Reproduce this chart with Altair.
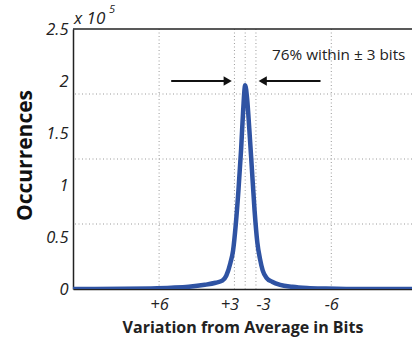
import altair as alt
import pandas as pd

# Variation (raw difference units; +ve plotted on the left) and occurrences (x 10^5)
var_x = [128, 90, 70, 55, 42, 30, 22, 17, 14, 11, 9, 7, 5, 3, 1.5, 0,
         -1.5, -3, -5, -7, -9, -11, -13, -16, -20, -26, -35, -46, -60, -75, -124]
occ_y = [0, 0.002, 0.006, 0.012, 0.021, 0.04, 0.06, 0.08, 0.13, 0.25, 0.37, 0.62, 0.95, 1.35, 1.72, 1.96,
         1.82, 1.55, 1.15, 0.75, 0.45, 0.29, 0.18, 0.105, 0.07, 0.04, 0.022, 0.01, 0.004, 0.001, 0]

x_tick_values = [64, 8, -8, -64]
x_tick_labels = ["+6", "+3", "-3", "-6"]
x_grid_values = [64, 8, 0, -8, -64]
y_tick_values = [0, 0.5, 1, 1.5, 2, 2.5]
y_grid_values = [0.625, 1.25, 1.875]

annot_text = ["76% within \u00b1 3 bits"]
annot_x = [-20]
annot_y = [2.25]
arrow_x1 = [55, -56]
arrow_x2 = [12, -12]
arrow_y = [2.0, 2.0]
head_x = [13, -13]
head_shape = ["triangle-right", "triangle-left"]

FONT = "Open Sans"
BLUE = "#2f53a3"

xscale = alt.Scale(domain=[-124, 128], reverse=True, nice=False, zero=False)
yscale = alt.Scale(domain=[0, 2.5], nice=False, zero=True)

label_expr = " : ".join(
    f"datum.value == {v} ? '{l}'" for v, l in zip(x_tick_values, x_tick_labels)
) + " : ''"

x_axis = alt.Axis(
    values=x_tick_values, labelExpr=label_expr, grid=False, ticks=False,
    domainColor="#222", domainWidth=1.5, labelFont=FONT, labelFontStyle="italic",
    labelFontSize=16.5, labelColor="#222", labelPadding=7, labelOverlap=False,
    labelOffset={"condition": {"test": "datum.value == 8", "value": -5}, "value": 0},
    labelAlign={"condition": {"test": "datum.value == -8", "value": "left"}, "value": "center"},
    title="Variation from Average in Bits", titleFont=FONT, titleFontSize=16,
    titleFontWeight="bold", titleColor="#222", titleY=38, titleBaseline="middle",
)
y_axis = alt.Axis(
    values=y_tick_values, format="~g", grid=False, ticks=False,
    domainColor="#222", domainWidth=1.5, labelFont=FONT, labelFontStyle="italic",
    labelFontSize=16.5, labelColor="#222", labelPadding=5, labelBaseline="middle",
    title="Occurrences", titleFont=FONT, titleFontSize=21, titleFontWeight="bold",
    titleColor="#111", titleX=-48, titleY=126, titleAngle=-90,
    titleAlign="center", titleBaseline="middle",
)


def X(field):
    return alt.X(field, type="quantitative", scale=xscale, axis=x_axis)


def Y(field):
    return alt.Y(field, type="quantitative", scale=yscale, axis=y_axis)


curve_df = pd.DataFrame({"x": var_x, "y": occ_y})

xgrid = alt.Chart(pd.DataFrame({"x": x_grid_values})).mark_rule(
    color="#9a9a9a", strokeDash=[1, 2.5], strokeWidth=1
).encode(x=X("x"))

ygrid = alt.Chart(pd.DataFrame({"y": y_grid_values})).mark_rule(
    color="#9a9a9a", strokeDash=[1, 2.5], strokeWidth=1
).encode(y=Y("y"))

top_border = alt.Chart(pd.DataFrame({"y": [2.5]})).mark_rule(
    color="#222", strokeWidth=1.5
).encode(y=Y("y"))

curve = alt.Chart(curve_df).mark_line(
    color=BLUE, strokeWidth=4.5, interpolate="monotone", clip=True
).encode(x=X("x"), y=Y("y"))

arrows_df = pd.DataFrame({"x1": arrow_x1, "x2": arrow_x2, "y": arrow_y,
                          "hx": head_x, "shape": head_shape})
arrow_lines = alt.Chart(arrows_df).mark_rule(color="#111", strokeWidth=2).encode(
    x=X("x1"), x2="x2:Q", y=Y("y"),
)
arrow_heads = alt.Chart(arrows_df).mark_point(
    filled=True, color="#111", opacity=1, size=90
).encode(
    x=X("hx"), y=Y("y"),
    shape=alt.Shape("shape:N", scale=None),
)

annot = alt.Chart(pd.DataFrame({"t": annot_text, "x": annot_x, "y": annot_y})).mark_text(
    align="left", baseline="middle", font=FONT, fontSize=15.3, color="#222"
).encode(x=X("x"), y=Y("y"), text="t:N")

exp_main = alt.Chart(pd.DataFrame({"t": ["x 10"]})).mark_text(
    align="left", baseline="alphabetic", font=FONT, fontSize=17, fontStyle="italic", color="#222"
).encode(x=alt.value(1), y=alt.value(-5), text="t:N")
exp_sup = alt.Chart(pd.DataFrame({"t": ["5"]})).mark_text(
    align="left", baseline="alphabetic", font=FONT, fontSize=11, fontStyle="italic", color="#222"
).encode(x=alt.value(36), y=alt.value(-16), text="t:N")

chart = alt.layer(
    xgrid, ygrid, top_border, curve, arrow_lines, arrow_heads, annot, exp_main, exp_sup
).properties(
    width=339, height=260,
    autosize=alt.AutoSizeParams(type="none"),
    padding={"left": 73, "top": 29, "right": 0, "bottom": 48},
    background="white",
).configure_view(stroke=None)

chart.save("out.html", embed_options={"renderer": "svg", "actions": False})
